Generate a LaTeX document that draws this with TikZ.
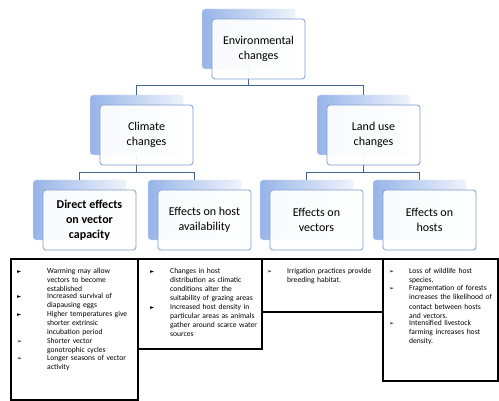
\documentclass[tikz,border=0pt]{standalone}
\usepackage{fontspec}
\setmainfont{Carlito}
\newfontfamily\dejavu{DejaVu Sans}
\usetikzlibrary{positioning}

\definecolor{backblue}{RGB}{150,180,232}
\definecolor{edgeblue}{RGB}{125,155,205}
\definecolor{linkblue}{RGB}{70,100,145}

\newlength{\bind}
\setlength{\bind}{20pt}
\newcommand{\tri}{{\dejavu\fontsize{5.5}{5}\selectfont ►}}
\newcommand{\arr}{{\dejavu\fontsize{6}{6}\selectfont ➢}}
\newcommand{\bitem}[2]{\par\noindent\makebox[\bind][l]{#1}%
    \parbox[t]{\dimexpr\hsize-\bind\relax}{\raggedright\hyphenpenalty=10000 #2}\par\vspace{1pt}}

\tikzset{
    backbox/.style={rounded corners=3pt, minimum width=93pt, minimum height=60pt,
        left color=backblue, right color=white!85!backblue, draw=white!80!edgeblue},
    frontbox/.style={rounded corners=3pt, minimum width=93pt, minimum height=60pt,
        fill=white, fill opacity=0.93, text opacity=1, draw=edgeblue, line width=0.8pt,
        align=center, font=\fontsize{12}{15}\selectfont},
    link/.style={draw=linkblue, line width=1.2pt},
    frame/.style={draw=black, line width=1.6pt, anchor=north west, inner sep=0pt},
    bullets/.style={anchor=north west, align=left, inner sep=0pt,
        font=\fontsize{7.6}{9.1}\selectfont}
}

\begin{document}
\begin{tikzpicture}[x=1pt,y=-1pt]
    \useasboundingbox (0,0) rectangle (499,401);

    % top level
    \node[backbox] (envB) at (248.5,39) {};
    % second level
    \node[backbox] (climB) at (136.5,125) {};
    \node[backbox] (landB) at (363.5,125) {};
    % third level
    \node[backbox] (dirB) at (79.5,210) {};
    \node[backbox] (hostavB) at (194.5,210) {};
    \node[backbox] (vecB) at (306.5,210) {};
    \node[backbox] (hostB) at (419.5,210) {};

    % connectors
    \draw[link] (envB.south) -- ++(0,16) coordinate (envJ) -| (climB.north);
    \draw[link] (envJ) -| (landB.north);
    \draw[link] (climB.south) -- ++(0,17) coordinate (climJ) -| (dirB.north);
    \draw[link] (climJ) -| (hostavB.north);
    \draw[link] (landB.south) -- ++(0,17) coordinate (landJ) -| (vecB.north);
    \draw[link] (landJ) -| (hostB.north);

    \node[frontbox] (env) at (258.5,49) {Environmental\\changes};
    \node[frontbox] (clim) at (146.5,135) {Climate\\changes};
    \node[frontbox] (land) at (373.5,135) {Land use\\changes};
    \node[frontbox] (dir) at (89.5,220) {\textbf{Direct effects}\\\textbf{on vector}\\\textbf{capacity}};
    \node[frontbox] (hostav) at (204.5,220) {Effects on host\\availability};
    \node[frontbox] (vec) at (316.5,220) {Effects on\\vectors};
    \node[frontbox] (host) at (429.5,220) {Effects on\\hosts};

    % text boxes
    \node[frame, minimum width=127pt, minimum height=141pt] (boxA) at (10,258) {};
    \node[frame, minimum width=124pt, minimum height=90pt] (boxB) at (137,258) {};
    \node[frame, minimum width=121pt, minimum height=53pt] (boxC) at (261,258) {};
    \node[frame, minimum width=115pt, minimum height=122pt] (boxD) at (382,258) {};

    \node[bullets, text width=115pt] (txtA) at ([shift={(7pt,-6pt)}]boxA.north west) {%
        \setlength{\bind}{30pt}%
        \bitem{\tri}{Warming may allow vectors to become established}
        \bitem{\tri}{Increased survival of diapausing eggs}
        \bitem{\tri}{Higher temperatures give shorter extrinsic incubation period}
        \bitem{\arr}{Shorter vector gonotrophic cycles}
        \bitem{\arr}{Longer seasons of vector activity}};
    \node[bullets, text width=108pt] (txtB) at ([shift={(13pt,-6pt)}]boxB.north west) {%
        \bitem{\tri}{Changes in host distribution as climatic conditions alter the suitability of grazing areas}
        \bitem{\tri}{Increased host density in particular areas as animals gather around scarce water sources}};
    \node[bullets, text width=110pt] (txtC) at ([shift={(6pt,-6pt)}]boxC.north west) {%
        \bitem{\arr}{Irrigation practices provide breeding habitat.}};
    \node[bullets, text width=104pt] (txtD) at ([shift={(7pt,-6pt)}]boxD.north west) {%
        \bitem{\arr}{Loss of wildlife host species.}
        \bitem{\arr}{Fragmentation of forests increases the likelihood of contact between hosts and vectors.}
        \bitem{\arr}{Intensified livestock farming increases host density.}};
\end{tikzpicture}
\end{document}
